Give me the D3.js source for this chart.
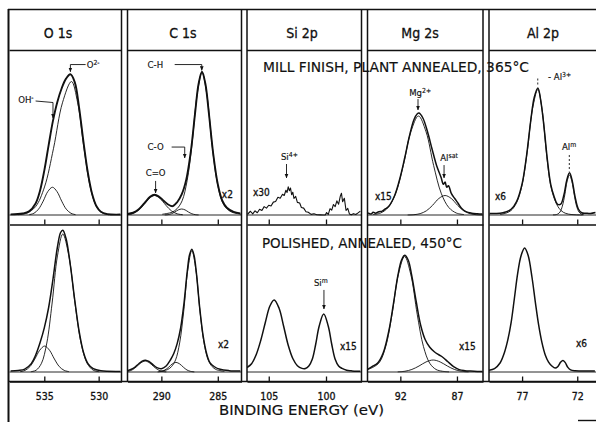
<!DOCTYPE html>
<html>
<head>
<meta charset="utf-8">
<script src="https://cdn.jsdelivr.net/npm/d3@7"></script>
<style>
	html, body { margin: 0; padding: 0; background: #fff; }
	svg { display: block; }
	text { font-family: "DejaVu Sans Condensed", "DejaVu Sans", sans-serif; fill: #111; }
	.ink { stroke: #111; stroke-width: 0.3; }
	.thin { stroke: #111; stroke-width: 0.15; }
</style>
</head>
<body>
<svg id="chart" width="596" height="422"></svg>
<script>
// ---- data ----
const panelNames = ['O 1s', 'C 1s', 'Si 2p', 'Mg 2s', 'Al 2p']
const energyRanges = [[538.2, 527.9], [293.0, 282.9], [106.9, 96.9], [94.9, 84.7], [80.0, 70.3]]
const tickValues = [[535, 530], [290, 285], [105, 100], [92, 87], [77, 72]]
const rowTitles = ['MILL FINISH, PLANT ANNEALED, 365°C', 'POLISHED, ANNEALED, 450°C']
const axisTitle = 'BINDING ENERGY  (eV)'

// spectra as [binding energy (eV), intensity (arb.)]
// mill finish, plant annealed 365°C
const o1sMillEnv = [[538.1,0.4],[537.0,1.0],[536.4,2.4],[535.8,7.7],[535.4,16],[535.0,29.6],[534.6,46.6],[534.2,62.9],[533.8,75.4],[533.4,84.5],[533.0,90.9],[532.6,93.8],[532.2,88.6],[531.8,71.6],[531.4,48.9],[531.0,28.5],[530.6,14],[530.2,5.8],[529.8,2.1],[529.2,0.6],[528.0,0.3]]
const o1sMillO2 = [[537.45,0.2],[536.63,1.2],[535.8,5.6],[534.98,18.7],[534.15,44.5],[533.33,74.8],[532.5,89],[531.93,74.8],[531.35,44.5],[530.78,18.7],[530.2,5.6],[529.63,1.2],[529.05,0.2]]
const o1sMillOH = [[536.38,0.24],[535.95,1.16],[535.53,3.9],[535.1,9.25],[534.68,15.6],[534.25,18.5],[533.83,15.6],[533.4,9.25],[532.98,3.9],[532.55,1.16],[532.13,0.24]]
const c1sMillEnv = [[293.0,0.7],[292.5,1.5],[292.0,3.8],[291.5,7.9],[291.0,12.1],[290.6,13.5],[290.2,12.2],[289.8,9.5],[289.4,7.0],[289.0,5.9],[288.6,8.5],[288.2,13.7],[287.8,23.4],[287.4,41.7],[287.0,68.8],[286.7,87.5],[286.4,95.5],[286.1,87.5],[285.8,68.5],[285.4,40.5],[285.0,20.5],[284.6,9.5],[284.2,4.8],[283.6,2.1],[283.0,1.1]]
const c1sMillCH = [[282.9,0.5],[283.76,1.9],[284.2,4.3],[284.64,9.5],[285.08,22.8],[285.52,47.5],[285.96,79.8],[286.4,95],[286.84,79.8],[287.28,47.5],[287.72,22.8],[288.16,9.5],[288.6,4.3],[289.04,1.9],[289.92,0.5]]
const c1sMillCdO = [[293.0,0.25],[292.6,0.8],[292.1,2.7],[291.6,6.5],[291.1,10.9],[290.6,13],[290.1,10.9],[289.6,6.5],[289.1,2.7],[288.6,0.8],[288.1,0.2]]
const c1sMillCO = [[289.7,0.05],[289.4,0.25],[289.1,0.84],[288.8,2],[288.5,3.4],[288.2,4],[287.9,3.4],[287.6,2],[287.3,0.84],[287.0,0.25],[286.7,0.05]]
const si2pMill = [[106.85,0.5],[106.6,2.5],[106.4,0.8],[106.2,2.8],[106.0,1.5],[105.8,3.8],[105.6,3.0],[105.4,5.6],[105.2,4.6],[105.0,6.5],[104.8,6.0],[104.6,8.6],[104.4,9.0],[104.2,11.8],[104.0,11.2],[103.8,13.8],[103.65,13.0],[103.5,16.5],[103.4,15.0],[103.3,18.8],[103.2,16.2],[103.1,18.0],[103.0,13.5],[102.9,15.2],[102.8,11.0],[102.65,12.4],[102.5,8.4],[102.3,8.0],[102.15,5.0],[101.95,4.6],[101.75,2.2],[101.55,1.8],[101.3,0.4],[101.05,0.8],[100.8,0.2],[100.5,0.1],[100.25,0],[100.05,0.1],[99.95,1.6],[99.8,0.4],[99.65,4.2],[99.5,3.2],[99.35,7.0],[99.2,5.6],[99.05,9.4],[98.9,7.2],[98.75,12.6],[98.65,14.5],[98.55,8.8],[98.4,11.2],[98.25,3.0],[98.1,4.4],[97.95,0.6],[97.8,0.1],[97.6,0.9],[97.4,0.3],[97.2,1.4],[97.0,2.6]]
const mg2sMillEnv = [[94.85,1.4],[94.6,0.6],[94.4,1.8],[94.2,1.2],[93.9,2.2],[93.6,2.6],[93.3,4.2],[93.0,6.0],[92.5,13],[92.0,25.5],[91.6,38.5],[91.2,52.5],[90.8,63.5],[90.5,67.5],[90.35,68],[90.0,64.5],[89.6,55.5],[89.2,44],[88.8,33],[88.4,25],[88.2,20.5],[88.05,22],[87.9,18.5],[87.75,19.5],[87.5,14.4],[87.2,11],[86.9,7.8],[86.6,4.5],[86.2,2.2],[85.7,1.2],[85.2,0.8],[84.75,0.6]]
const mg2sMillMg = [[94.42,0.3],[93.75,1.3],[93.08,5],[92.41,14.5],[91.74,33],[91.07,55.5],[90.4,66],[89.73,55.5],[89.06,33],[88.39,14.5],[87.72,5],[87.05,1.3],[86.38,0.3]]
const mg2sMillSat = [[91.35,0.03],[90.8,0.2],[90.25,0.9],[89.7,2.8],[89.15,6.5],[88.6,11],[88.05,13],[87.5,11],[86.95,6.5],[86.4,2.8],[85.85,0.9],[85.3,0.2],[84.75,0.03]]
const al2pMillEnv = [[79.95,1.0],[79.0,1.2],[78.5,2.0],[78.0,3.8],[77.5,9],[77.0,20.8],[76.6,39.3],[76.2,63.8],[75.9,78.3],[75.57,84.6],[75.3,75.8],[75.0,57.8],[74.7,36.3],[74.4,20.3],[74.1,12.4],[73.8,7.3],[73.5,7.2],[73.2,13.7],[72.95,23.2],[72.7,28.1],[72.45,22.6],[72.2,12.2],[71.9,4.0],[71.6,1.5],[71.2,1.2],[70.8,1.0],[70.35,1.6]]
const al2pMillOx = [[79.0,0.4],[78.48,1.2],[78.0,3],[77.51,8],[77.03,19],[76.54,41.9],[76.06,70.5],[75.57,83.8],[75.19,70.5],[74.8,41.9],[74.42,20],[74.03,10],[73.65,4.5],[73.26,1.8],[72.8,0.6],[72.3,0.2],[71.5,0]]
const al2pMillMet = [[74.2,0.1],[73.99,0.16],[73.78,0.6],[73.56,2],[73.35,5.9],[73.13,13.4],[72.92,22.5],[72.7,26.7],[72.49,22.5],[72.27,13.4],[72.06,5.9],[71.84,2],[71.63,0.6],[71.41,0.16]]

// polished, annealed 450°C
const o1sPolEnv = [[538.1,0.6],[537.4,1.0],[536.8,1.9],[536.2,5.6],[535.8,11.2],[535.4,19.3],[535.0,29.4],[534.6,43],[534.2,62],[533.8,83],[533.5,93],[533.3,94.5],[533.0,89],[532.6,71],[532.2,48],[531.8,27.3],[531.4,13.2],[531.0,5.8],[530.5,2.2],[529.8,0.8],[528.0,0.4]]
const o1sPolO2 = [[536.24,0.2],[535.75,1.2],[535.26,5.8],[534.77,19.3],[534.28,46],[533.79,77.4],[533.3,92],[532.74,77.4],[532.18,46],[531.62,19.3],[531.06,5.8],[530.5,1.2],[529.94,0.2]]
const o1sPolOH = [[537.22,0.23],[536.77,1.08],[536.32,3.6],[535.87,8.65],[535.42,14.5],[534.97,17.3],[534.52,14.5],[534.07,8.65],[533.62,3.6],[533.17,1.08],[532.72,0.23]]
const c1sPolEnv = [[293.0,0.9],[292.5,2.4],[292.0,5.5],[291.7,7.3],[291.4,7.9],[291.1,7.0],[290.8,5.2],[290.4,2.9],[290.0,2.2],[289.6,3.8],[289.2,8.0],[288.9,12.3],[288.6,18.9],[288.3,29],[288.0,45.5],[287.7,67.4],[287.5,78.2],[287.3,81.9],[287.1,77.6],[286.9,66.2],[286.6,42.6],[286.3,24.1],[286.0,12.6],[285.7,6.3],[285.3,3.5],[284.8,1.8],[284.0,0.9],[283.0,0.6]]
const c1sPolCH = [[284.42,0.4],[285.14,1.6],[285.5,3.6],[285.86,8.1],[286.22,19.4],[286.58,40.5],[286.94,68],[287.3,81],[287.66,68],[288.02,40.5],[288.38,19.4],[288.74,8.1],[289.1,3.6],[289.46,1.6],[290.18,0.4]]
const c1sPolCdO = [[293.31,0.1],[292.93,0.46],[292.56,1.53],[292.18,3.65],[291.81,6.14],[291.43,7.3],[291.06,6.14],[290.68,3.65],[290.31,1.53],[289.93,0.46],[289.56,0.1]]
const c1sPolCO = [[290.33,0.08],[290.0,0.4],[289.68,1.34],[289.35,3.2],[289.03,5.4],[288.7,6.4],[288.38,5.4],[288.05,3.2],[287.73,1.34],[287.4,0.4],[287.08,0.08]]
const si2pPol = [[106.9,3.0],[106.5,5.5],[106.1,11.5],[105.7,21],[105.3,33],[104.9,44],[104.53,48],[104.1,42.5],[103.7,30.5],[103.3,17.8],[102.9,9],[102.5,4.2],[102.1,2.4],[101.8,2.3],[101.5,4],[101.2,8.5],[100.9,18.5],[100.6,30.5],[100.2,38.7],[99.8,30.5],[99.5,18.5],[99.2,8.5],[98.9,4],[98.6,2.4],[98.2,1.2],[97.8,0.8],[97.4,0.5],[97.0,0.5]]
const mg2sPolEnv = [[94.9,1.8],[94.5,3.6],[94.0,6],[93.5,13],[93.0,28],[92.6,46],[92.2,65],[91.9,74.5],[91.62,77.8],[91.3,74.5],[91.0,64.5],[90.6,47],[90.2,31],[89.8,21.5],[89.4,16.5],[89.0,13.5],[88.6,11.5],[88.2,9.5],[87.8,6.8],[87.3,3.6],[86.8,1.6],[86.3,0.9],[85.8,0.6],[85.2,0.4],[84.75,0.4]]
const mg2sPolMg = [[94.95,1.5],[94.4,3.2],[93.84,6.5],[93.29,17],[92.73,38.5],[92.18,64.8],[91.62,77],[91.07,64.8],[90.51,38.5],[89.96,17],[89.4,5.8],[88.85,1.7],[88.29,0.5],[87.7,0.1]]
const mg2sPolSat = [[92.23,0.1],[91.6,0.5],[90.98,1.7],[90.35,4],[89.73,6.7],[89.1,8],[88.48,6.7],[87.85,4],[87.23,1.7],[86.6,0.5],[85.98,0.1]]
const al2pPol = [[80.0,1.2],[79.5,2.3],[79.0,6],[78.6,13],[78.3,21.2],[78.0,32.7],[77.7,49],[77.4,65.7],[77.1,77.4],[76.77,82.7],[76.45,77.7],[76.1,63],[75.8,46.6],[75.5,31.4],[75.2,19.6],[74.9,11.4],[74.6,6.6],[74.3,4],[74.0,2.6],[73.75,3.7],[73.5,6.6],[73.3,7.7],[73.1,6.4],[72.85,3.1],[72.6,1.4],[72.2,0.8],[71.6,0.7],[70.4,0.6]]

const series = [
	{row: 0, panel: 0, data: o1sMillEnv, kind: 'envBold'},
	{row: 0, panel: 0, data: o1sMillO2, kind: 'comp'},
	{row: 0, panel: 0, data: o1sMillOH, kind: 'comp'},
	{row: 0, panel: 1, data: c1sMillEnv, kind: 'envBold'},
	{row: 0, panel: 1, data: c1sMillCH, kind: 'comp'},
	{row: 0, panel: 1, data: c1sMillCdO, kind: 'comp'},
	{row: 0, panel: 1, data: c1sMillCO, kind: 'comp'},
	{row: 0, panel: 2, data: si2pMill, kind: 'noisy'},
	{row: 0, panel: 3, data: mg2sMillEnv, kind: 'env'},
	{row: 0, panel: 3, data: mg2sMillMg, kind: 'comp'},
	{row: 0, panel: 3, data: mg2sMillSat, kind: 'comp'},
	{row: 0, panel: 4, data: al2pMillEnv, kind: 'env'},
	{row: 0, panel: 4, data: al2pMillOx, kind: 'comp'},
	{row: 0, panel: 4, data: al2pMillMet, kind: 'comp'},
	{row: 1, panel: 0, data: o1sPolEnv, kind: 'env'},
	{row: 1, panel: 0, data: o1sPolO2, kind: 'comp'},
	{row: 1, panel: 0, data: o1sPolOH, kind: 'comp'},
	{row: 1, panel: 1, data: c1sPolEnv, kind: 'env'},
	{row: 1, panel: 1, data: c1sPolCH, kind: 'comp'},
	{row: 1, panel: 1, data: c1sPolCdO, kind: 'comp'},
	{row: 1, panel: 1, data: c1sPolCO, kind: 'comp'},
	{row: 1, panel: 2, data: si2pPol, kind: 'env'},
	{row: 1, panel: 3, data: mg2sPolEnv, kind: 'env'},
	{row: 1, panel: 3, data: mg2sPolMg, kind: 'comp'},
	{row: 1, panel: 3, data: mg2sPolSat, kind: 'comp'},
	{row: 1, panel: 4, data: al2pPol, kind: 'env'}
]

// multiplier notes, placed at [eV, intensity]
const gainLabels = [
	{row: 0, panel: 1, text: 'x2', at: [284.64, 11.3]},
	{row: 0, panel: 2, text: 'x30', at: [106.38, 12.7]},
	{row: 0, panel: 3, text: 'x15', at: [94.24, 10]},
	{row: 0, panel: 4, text: 'x6', at: [79.46, 10]},
	{row: 1, panel: 1, text: 'x2', at: [284.99, 16]},
	{row: 1, panel: 2, text: 'x15', at: [98.78, 14.7]},
	{row: 1, panel: 3, text: 'x15', at: [86.82, 14.7]},
	{row: 1, panel: 4, text: 'x6', at: [72.11, 16.7]}
]

// peak names with leaders, placed at [eV, intensity]
const peakLabels = [
	{row: 0, panel: 0, text: 'O', sup: '2-', at: [531.1, 98], anchor: 'start', leader: [[531.2, 100.3], [532.6, 100.3], [532.6, 95.5]], arrow: true},
	{row: 0, panel: 0, text: 'OH', sup: '-', at: [537.4, 74.7], anchor: 'start', leader: [[535.8, 76], [534.2, 75], [534.2, 64.7]], arrow: true},
	{row: 0, panel: 1, text: 'C-H', at: [291.22, 98], anchor: 'start', leader: [[288.82, 100.3], [286.42, 100.3], [286.42, 96.5]], arrow: true},
	{row: 0, panel: 1, text: 'C-O', at: [291.22, 43.3], anchor: 'start', leader: [[289.09, 45.3], [287.93, 45.3], [287.93, 38]], arrow: true},
	{row: 0, panel: 1, text: 'C=O', at: [290.51, 26], anchor: 'middle', leader: [[290.51, 22.7], [290.51, 14.7]], arrow: true},
	{row: 0, panel: 2, text: 'Si', sup: '4+', at: [103.2, 36.7], anchor: 'middle', leader: [[103.45, 34], [103.45, 24.7]], arrow: true},
	{row: 0, panel: 3, text: 'Mg', sup: '2+', at: [90.25, 79.3], anchor: 'middle', leader: [[90.44, 77.3], [90.44, 70]], arrow: true},
	{row: 0, panel: 3, text: 'Al', sup: 'sat', at: [87.7, 36], anchor: 'middle', leader: [[88.14, 33.3], [88.14, 24.7]], arrow: true},
	{row: 0, panel: 4, text: '- Al', sup: '3+', at: [74.65, 90], anchor: 'start', leader: [[75.58, 91], [75.58, 86]], dashed: true},
	{row: 0, panel: 4, text: 'Al', sup: 'm', at: [73.38, 43.3], anchor: 'start', leader: [[72.72, 40], [72.72, 29]], dashed: true},
	{row: 1, panel: 2, text: 'Si', sup: 'm', at: [100.45, 57.3], anchor: 'middle', leader: [[100.18, 54.7], [100.18, 42]], arrow: true}
]

// ---- layout ----
const W = 596, H = 422
const panelLeft = [9.5, 127.5, 247, 367.5, 489]
const panelRight = [121.5, 241.5, 361.5, 483, 596]
const headerCenters = [58, 183, 302, 420, 543]
const topY = 9.5, headerY = 50.5
const axisY = [224.5, 381.5]
const rowTop = [headerY, axisY[0]]
const rowY = [
	d3.scaleLinear().domain([0, 100]).range([215, 65]),
	d3.scaleLinear().domain([0, 100]).range([372, 222])
]

const xScales = energyRanges.map((dom, p) => d3.scaleLinear().domain(dom).range([panelLeft[p], panelRight[p]]))

const $svg = d3.select('#chart')
const $defs = $svg.append('defs')

$defs.append('marker')
	.attr('id', 'arrow')
	.attr('viewBox', '0 0 6 6')
	.attr('refX', 5.5)
	.attr('refY', 3)
	.attr('markerWidth', 5)
	.attr('markerHeight', 5)
	.attr('orient', 'auto')
	.append('path')
	.attr('d', 'M0,0.5 L6,3 L0,5.5 Z')
	.attr('fill', '#111')

// clip each cell so curves stay inside their box
for (let r = 0; r < 2; r++) {
	panelNames.forEach((_, p) => {
		$defs.append('clipPath')
			.attr('id', `clip-${r}-${p}`)
			.append('rect')
			.attr('x', panelLeft[p])
			.attr('y', rowTop[r])
			.attr('width', panelRight[p] - panelLeft[p])
			.attr('height', axisY[r] - rowTop[r])
	})
}

const $frame = $svg.append('g')
	.attr('stroke', '#111')
	.attr('fill', 'none')

// outer frame
$frame.append('line').attr('x1', 8.5).attr('x2', 8.5).attr('y1', topY - 0.5).attr('y2', H).attr('stroke-width', 2)
$frame.append('line').attr('x1', 8).attr('x2', W).attr('y1', topY).attr('y2', topY).attr('stroke-width', 1.6)
$frame.append('line').attr('x1', 8).attr('x2', W).attr('y1', axisY[1]).attr('y2', axisY[1]).attr('stroke-width', 1.6)
$frame.append('line').attr('x1', 578).attr('x2', W).attr('y1', 420.5).attr('y2', 420.5).attr('stroke-width', 1.4)

// double separators between elements
panelNames.slice(1).forEach((_, i) => {
	[panelRight[i], panelLeft[i + 1]].forEach(x => {
		$frame.append('line')
			.attr('x1', x).attr('x2', x)
			.attr('y1', topY).attr('y2', axisY[1])
			.attr('stroke-width', 1.5)
	})
})

// header boxes
panelNames.forEach((name, p) => {
	$frame.append('line')
		.attr('x1', panelLeft[p]).attr('x2', panelRight[p])
		.attr('y1', headerY).attr('y2', headerY)
		.attr('stroke-width', 1.4)

	$svg.append('text')
		.attr('class', 'ink')
		.attr('x', headerCenters[p])
		.attr('y', 38)
		.attr('text-anchor', 'middle')
		.attr('font-size', 14)
		.text(name)
})

// axes (ticks point up, labels only on the bottom row)
for (let r = 0; r < 2; r++) {
	panelNames.forEach((_, p) => {
		const axis = d3.axisBottom(xScales[p])
			.tickValues(tickValues[p])
			.tickSizeInner(-5)
			.tickSizeOuter(0)
			.tickPadding(11)
		if (r === 0) axis.tickFormat('')

		const $axis = $svg.append('g')
			.attr('transform', `translate(0, ${axisY[r]})`)
			.call(axis)

		$axis.select('.domain').attr('stroke', '#111').attr('stroke-width', 1.5)
		$axis.selectAll('.tick line').attr('stroke', '#111').attr('stroke-width', 1.3)
		$axis.selectAll('.tick text')
			.attr('class', 'ink')
			.attr('font-size', 10.5)
			.attr('font-family', '"DejaVu Sans Condensed", "DejaVu Sans", sans-serif')
			.attr('fill', '#111')
	})
}

// row captions and axis title
const titleSpans = [[263, 72, 266], [262, 248, 200]]
rowTitles.forEach((t, r) => {
	$svg.append('text')
		.attr('class', 'thin')
		.attr('x', titleSpans[r][0])
		.attr('y', titleSpans[r][1])
		.attr('font-size', 13.5)
		.attr('textLength', titleSpans[r][2])
		.attr('lengthAdjust', 'spacingAndGlyphs')
		.text(t)
})

$svg.append('text')
	.attr('class', 'thin')
	.attr('x', 219)
	.attr('y', 415)
	.attr('font-size', 13.5)
	.attr('textLength', 165)
	.attr('lengthAdjust', 'spacingAndGlyphs')
	.text(axisTitle)

// baselines
for (let r = 0; r < 2; r++) {
	panelNames.forEach((_, p) => {
		$svg.append('line')
			.attr('x1', panelLeft[p]).attr('x2', panelRight[p])
			.attr('y1', rowY[r](0)).attr('y2', rowY[r](0))
			.attr('stroke', '#111')
			.attr('stroke-width', 0.9)
	})
}

// spectra
const widths = {envBold: 1.9, env: 1.5, comp: 0.9, noisy: 1.1}

series.forEach(s => {
	const x = xScales[s.panel], y = rowY[s.row]
	const line = d3.line()
		.x(d => x(d[0]))
		.y(d => y(d[1]))
		.curve(s.kind === 'noisy' ? d3.curveLinear : d3.curveCatmullRom.alpha(0.5))

	$svg.append('path')
		.datum(s.data)
		.attr('clip-path', `url(#clip-${s.row}-${s.panel})`)
		.attr('d', line)
		.attr('fill', 'none')
		.attr('stroke', '#111')
		.attr('stroke-width', widths[s.kind])
		.attr('stroke-linejoin', 'round')
})

// multiplier notes
gainLabels.forEach(g => {
	$svg.append('text')
		.attr('class', 'ink')
		.attr('x', xScales[g.panel](g.at[0]))
		.attr('y', rowY[g.row](g.at[1]))
		.attr('font-size', 10)
		.text(g.text)
})

// peak names
peakLabels.forEach(l => {
	const x = xScales[l.panel], y = rowY[l.row]
	const $t = $svg.append('text')
		.attr('class', 'thin')
		.attr('x', x(l.at[0]))
		.attr('y', y(l.at[1]))
		.attr('text-anchor', l.anchor)
		.attr('font-size', 9.5)
	$t.append('tspan').text(l.text)
	if (l.sup) {
		$t.append('tspan')
			.attr('dy', '-0.5em')
			.attr('font-size', '0.72em')
			.text(l.sup)
	}

	const $leader = $svg.append('path')
		.datum(l.leader)
		.attr('d', d3.line().x(d => x(d[0])).y(d => y(d[1])))
		.attr('fill', 'none')
		.attr('stroke', '#111')
		.attr('stroke-width', 0.9)
	if (l.arrow) $leader.attr('marker-end', 'url(#arrow)')
	if (l.dashed) $leader.attr('stroke-dasharray', '2,2')
})
</script>
</body>
</html>
